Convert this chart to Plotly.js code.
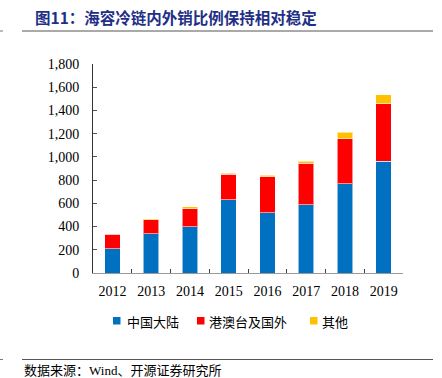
<!DOCTYPE html>
<html>
<head>
<meta charset="utf-8">
<script src="https://cdn.plot.ly/plotly-3.0.1.min.js"></script>
<style>html,body{margin:0;padding:0;background:#fff;}#chart{width:442px;height:378px;}</style>
</head>
<body>
<div id="chart"></div>
<script>
var years = ['2012','2013','2014','2015','2016','2017','2018','2019'];
var mainland = [210, 337, 400, 630, 521, 587, 768, 964];
var overseas = [124, 121, 153, 219, 308, 357, 389, 495];
var others = [3, 5, 17, 12, 11, 20, 55, 78];
var seriesNames = ['中国大陆', '港澳台及国外', '其他'];
var colors = ['#0070C0', '#FF0000', '#FFC000'];
var yTicks = [0, 200, 400, 600, 800, 1000, 1200, 1400, 1600, 1800];

var cjk = '"Noto Sans CJK SC", sans-serif';
var serif = '"Liberation Serif", "Times New Roman", serif';

// plot area in pixels: x 93..403, y 64..273
function px(x) { return (x - 93) / 310; }
function py(y) { return (273 - y) / 209; }

var series = [mainland, overseas, others];
var traces = series.map(function (vals, i) {
  return {
    type: 'bar', x: years, y: vals, name: seriesNames[i],
    marker: {color: colors[i], line: {color: 'rgba(255,255,255,0.55)', width: 1}},
    hoverinfo: 'x+y+name', showlegend: false
  };
});

var legendSquareX = [113, 197, 310];
var legendTextX = [125, 207, 320];
var shapes = [
  {type: 'line', xref: 'paper', yref: 'paper', x0: px(22), x1: px(433), y0: py(31), y1: py(31),
   line: {color: '#555', width: 1}},
  {type: 'line', xref: 'paper', yref: 'paper', x0: px(22), x1: px(433), y0: py(359.5), y1: py(359.5),
   line: {color: '#555', width: 1}},
  {type: 'line', xref: 'paper', yref: 'paper', x0: px(0), x1: px(3), y0: py(31), y1: py(31),
   line: {color: '#777', width: 1}},
  {type: 'line', xref: 'paper', yref: 'paper', x0: px(0), x1: px(3), y0: py(359.5), y1: py(359.5),
   line: {color: '#777', width: 1}}
];
var annotations = [
  {xref: 'paper', yref: 'paper', x: px(22), y: py(369.5), xanchor: 'left', yanchor: 'middle', showarrow: false,
   text: '数据来源：<span style="font-family:Liberation Serif">Wind</span>、开源证券研究所',
   font: {family: cjk, size: 13, color: '#000'}},
  {xref: 'paper', yref: 'paper', x: px(175.5), y: py(17), xanchor: 'center', yanchor: 'middle', showarrow: false,
   text: '图11：海容冷链内外销比例保持相对稳定',
   font: {family: cjk, size: 15.5, color: '#1F2F86', weight: 700}}
];
seriesNames.forEach(function (n, i) {
  shapes.push({type: 'rect', xref: 'paper', yref: 'paper',
    x0: px(legendSquareX[i]), x1: px(legendSquareX[i] + 7.5), y0: py(324.5), y1: py(317),
    fillcolor: colors[i], line: {width: 0}});
  annotations.push({xref: 'paper', yref: 'paper', x: px(legendTextX[i]), y: py(321.5),
    xanchor: 'left', yanchor: 'middle', showarrow: false, text: n,
    font: {family: cjk, size: 13, color: '#000'}});
});

var layout = {
  width: 442, height: 378,
  margin: {l: 93, r: 39, t: 64, b: 105},
  barmode: 'stack', bargap: 0.6,
  paper_bgcolor: '#fff', plot_bgcolor: '#fff',
  font: {family: serif, size: 14, color: '#000'},
  showlegend: false,
  xaxis: {
    type: 'category', showgrid: false, showline: true, linecolor: '#999', linewidth: 1,
    ticks: 'inside', tickson: 'boundaries', ticklen: 4, tickcolor: '#444',
    tickfont: {family: serif, size: 14}, zeroline: false, ticklabelstandoff: 5
  },
  yaxis: {
    range: [0, 1800], tickvals: yTicks, ticktext: yTicks.map(function(v){return v.toLocaleString('en-US');}),
    showgrid: false, showline: true, linecolor: '#333', linewidth: 1,
    ticks: 'inside', ticklen: 4, tickcolor: '#555', zeroline: false,
    tickfont: {family: serif, size: 14}, ticklabelstandoff: 10
  },
  shapes: shapes,
  annotations: annotations
};

Plotly.newPlot('chart', traces, layout, {displayModeBar: false, staticPlot: true});
</script>
</body>
</html>
